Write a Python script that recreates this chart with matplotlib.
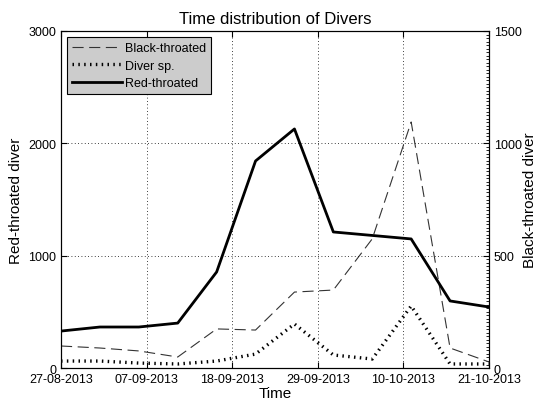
import numpy as np
import pandas as pd
import matplotlib
matplotlib.use('Agg')
import matplotlib.pyplot as plt
from matplotlib import dates as mdates
from matplotlib.ticker import MultipleLocator

plt.rcParams['font.family'] = ['Liberation Sans', 'DejaVu Sans']

dates = pd.to_datetime(['2013-08-27', '2013-09-01', '2013-09-06', '2013-09-11',
                        '2013-09-16', '2013-09-21', '2013-09-26', '2013-10-01',
                        '2013-10-06', '2013-10-11', '2013-10-16', '2013-10-21'])
red_throated = [329, 365, 365, 400, 855, 1843, 2128, 1211, 1180, 1149, 597, 543]
black_throated = [98, 89, 76, 49, 174, 169, 338, 347, 575, 1095, 89, 27]
diver_sp = [31, 31, 22, 18, 31, 62, 196, 58, 40, 276, 18, 18]

tick_dates = pd.to_datetime(['2013-08-27', '2013-09-07', '2013-09-18',
                             '2013-09-29', '2013-10-10', '2013-10-21'])

fig = plt.figure(figsize=(5.39, 4.06), dpi=100)
ax = fig.add_axes([0.1132, 0.0911, 0.794, 0.8301])
ax2 = ax.twinx()

l1, = ax2.plot(dates, black_throated, color='#333333', linewidth=0.8,
               linestyle=(0, (10, 5)), label='Black-throated')
l2, = ax2.plot(dates, diver_sp, color='black', linewidth=2.4,
               linestyle=(0, (0.45, 1.3)), dash_capstyle='butt', label='Diver sp.')
l3, = ax.plot(dates, red_throated, color='black', linewidth=2, label='Red-throated')

ax.set_xlim(tick_dates[0], tick_dates[-1])
ax.set_ylim(0, 3000)
ax2.set_ylim(0, 1500)
ax.set_yticks([0, 1000, 2000, 3000])
ax2.set_yticks([0, 500, 1000, 1500])
ax2.yaxis.set_minor_locator(MultipleLocator(1500 / 96))
ax.set_xticks(tick_dates)
ax.xaxis.set_major_formatter(mdates.DateFormatter('%d-%m-%Y'))

ax.grid(True, color='black', linestyle=(0, (1, 3)), linewidth=0.6)
ax.tick_params(direction='in', labelsize=9, top=True, length=4)
ax2.tick_params(direction='in', labelsize=9, length=4)
ax2.tick_params(which='minor', direction='in', length=2)
for a in (ax, ax2):
    for s in a.spines.values():
        s.set_linewidth(0.8)

ax.set_title('Time distribution of Divers', fontsize=12, pad=6)
ax.set_xlabel('Time', fontsize=11, labelpad=1)
ax.set_ylabel('Red-throated diver', fontsize=11)
ax2.set_ylabel('Black-throated diver', fontsize=11, labelpad=1)

leg = ax.legend(handles=[l1, l2, l3], loc='upper left', fontsize=9,
                fancybox=False, framealpha=1, facecolor='#cccccc',
                edgecolor='black', handlelength=4, borderaxespad=0.5,
                labelspacing=0.45, handletextpad=0.2, borderpad=0.4)
leg.get_frame().set_linewidth(0.8)
ax.set_zorder(ax2.get_zorder() + 1)
ax.patch.set_visible(False)

fig.savefig('out.png', dpi=100)
